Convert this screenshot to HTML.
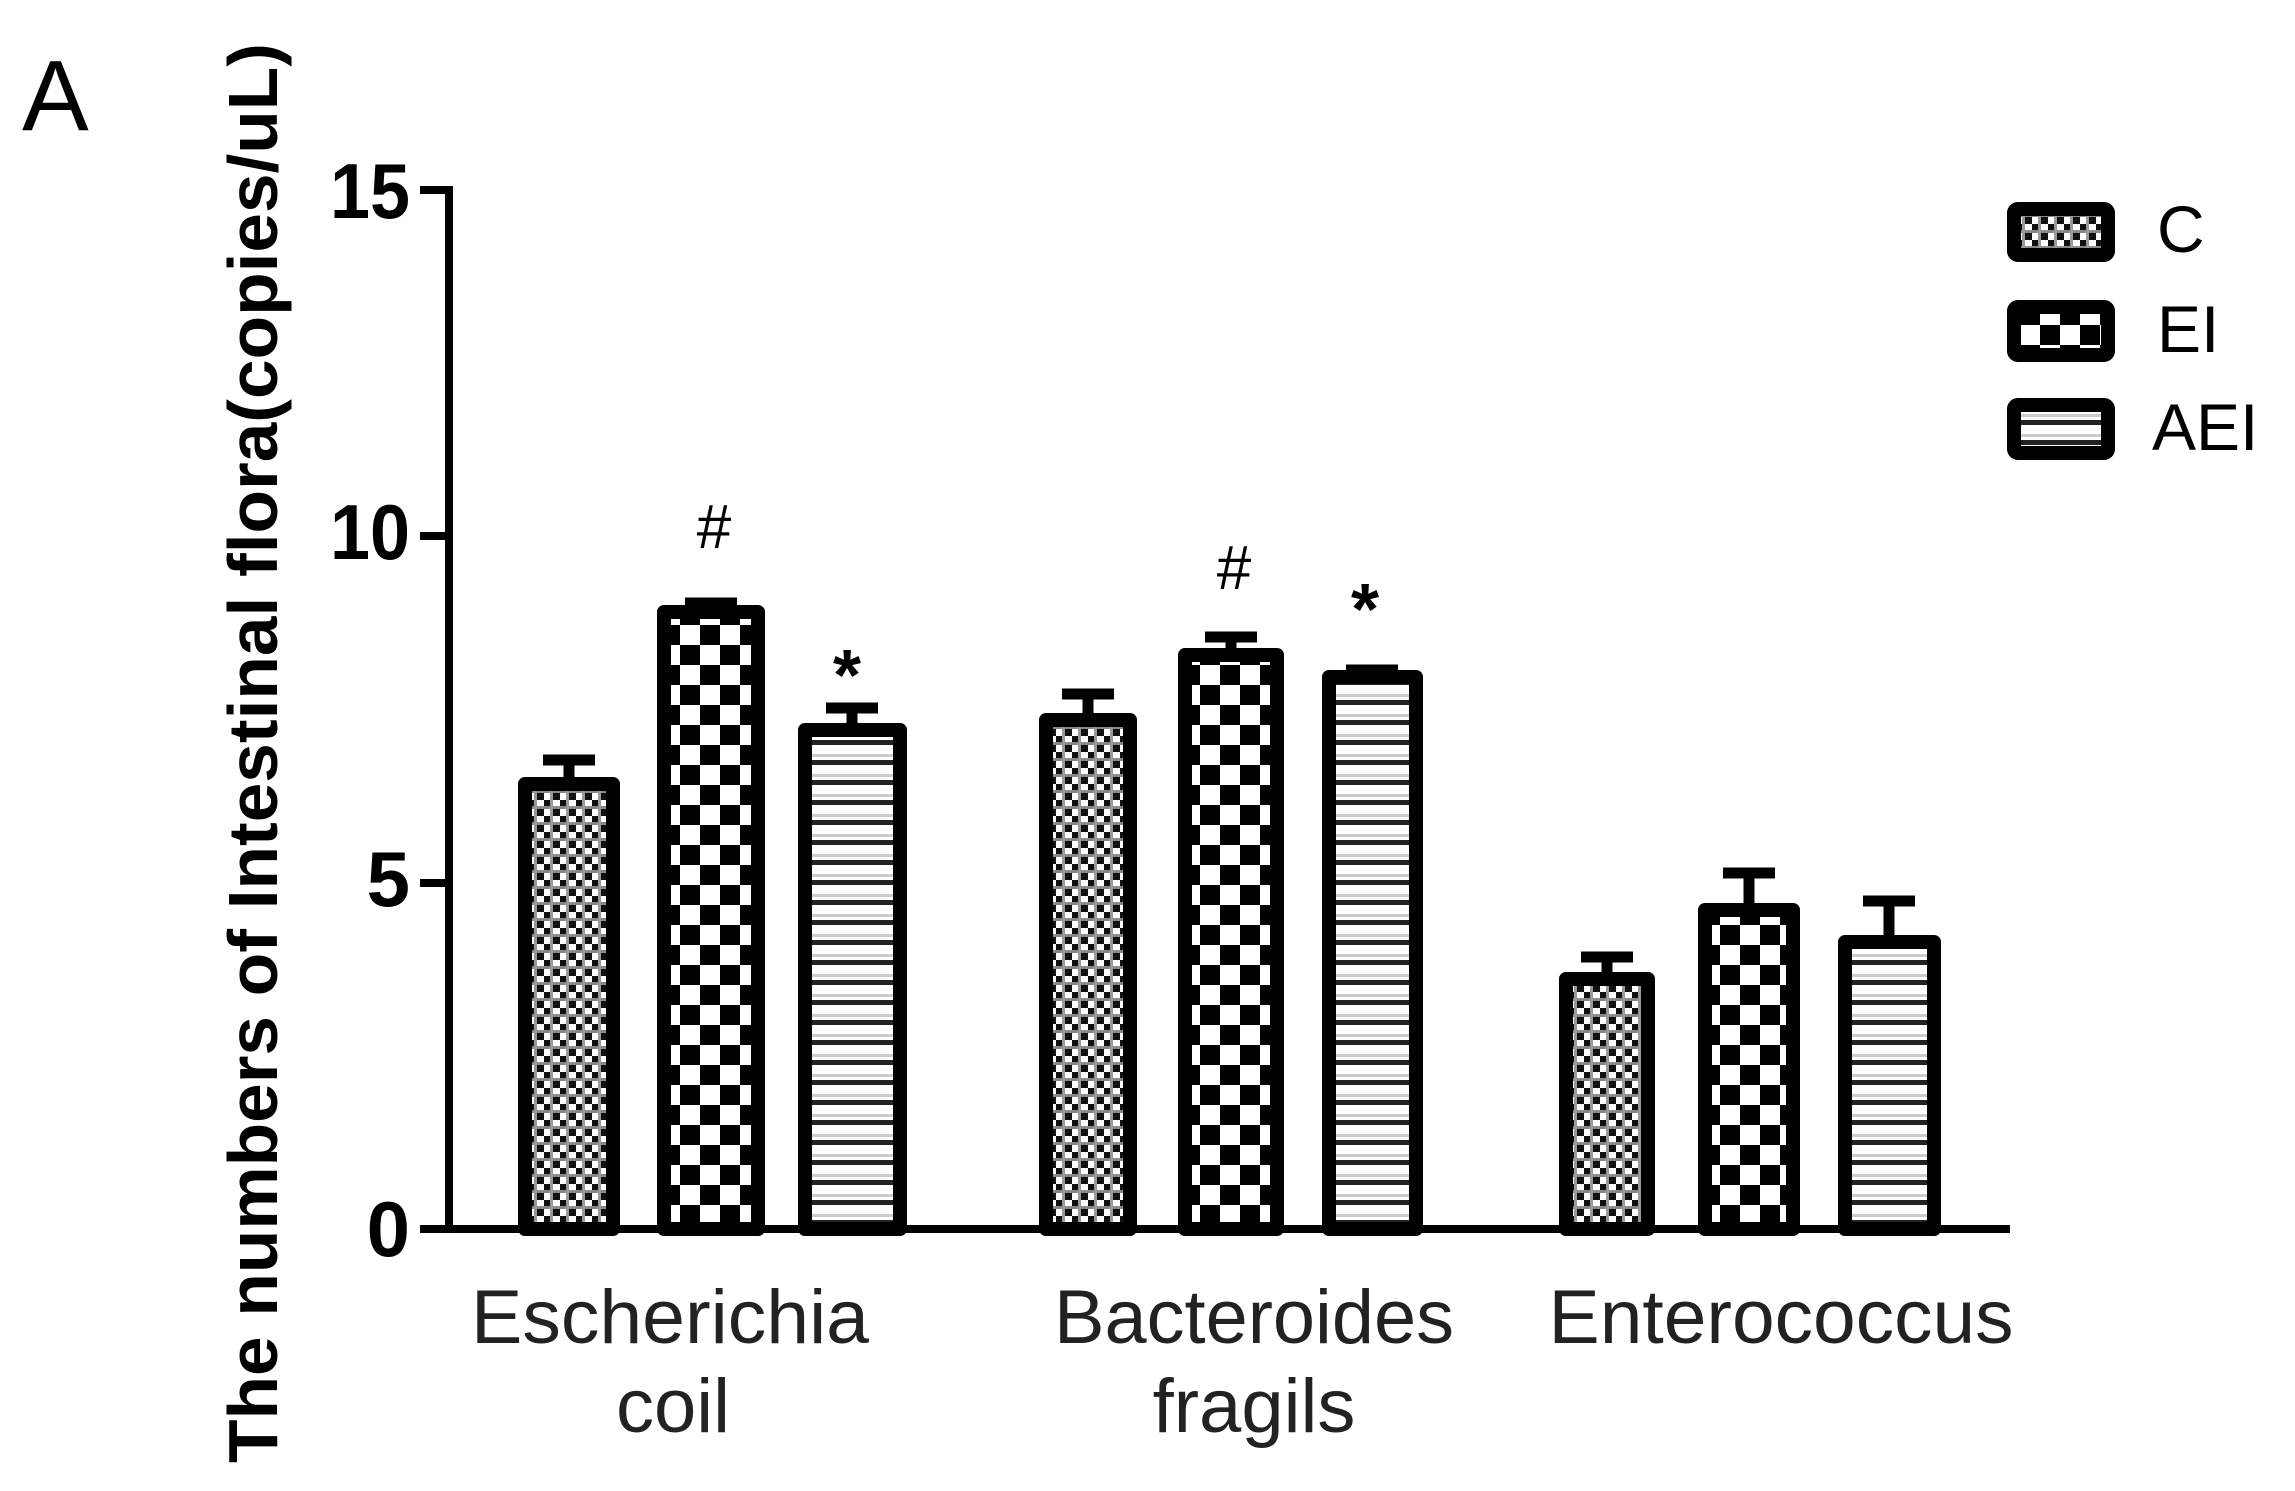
<!DOCTYPE html>
<html><head><meta charset="utf-8"><style>html,body{margin:0;padding:0;background:#fff}svg{display:block}</style></head>
<body>
<svg width="2295" height="1491" viewBox="0 0 2295 1491" xmlns="http://www.w3.org/2000/svg" font-family="Liberation Sans, sans-serif">
<defs>
<pattern id="pc" width="16" height="16" patternUnits="userSpaceOnUse">
<rect width="16" height="16" fill="#fff"/>
<rect x="0" y="0" width="8" height="8" fill="#111"/>
<rect x="8" y="8" width="8" height="8" fill="#111"/>
<rect x="0" y="6" width="16" height="3" fill="#888"/>
<rect x="6" y="0" width="3" height="16" fill="#999"/>
</pattern>
<pattern id="pe" width="40" height="40" patternUnits="userSpaceOnUse" x="0" y="5">
<rect width="40" height="40" fill="#fff"/>
<rect x="0" y="0" width="20" height="20" fill="#000"/>
<rect x="20" y="20" width="20" height="20" fill="#000"/>
</pattern>
<pattern id="pa" width="20" height="20" patternUnits="userSpaceOnUse">
<rect width="20" height="20" fill="#fff"/>
<rect x="0" y="0" width="20" height="5" fill="#222"/>
<rect x="0" y="14" width="20" height="3" fill="#ccc"/>
</pattern>
</defs>

<text x="22" y="130" font-size="100">A</text>

<text transform="translate(277,1463) rotate(-90)" font-size="70" font-weight="bold" textLength="1420" lengthAdjust="spacingAndGlyphs">The numbers of Intestinal flora(copies/uL)</text>

<g font-size="78" font-weight="bold" text-anchor="end">
<text x="410" y="218" textLength="80" lengthAdjust="spacingAndGlyphs">15</text>
<text x="410" y="559" textLength="80" lengthAdjust="spacingAndGlyphs">10</text>
<text x="410" y="906">5</text>
<text x="410" y="1256">0</text>
</g>
<g stroke="#000" stroke-width="8">
<line x1="420" y1="190" x2="449" y2="190"/>
<line x1="420" y1="536" x2="449" y2="536"/>
<line x1="420" y1="883" x2="449" y2="883"/>
<line x1="449" y1="186" x2="449" y2="1233"/>
</g>

<g stroke="#000" stroke-width="11">
<line x1="569" y1="760" x2="569" y2="780"/><line x1="543" y1="760" x2="595" y2="760"/>
<line x1="711" y1="603" x2="711" y2="610"/><line x1="685" y1="603" x2="737" y2="603"/>
<line x1="852" y1="708" x2="852" y2="728"/><line x1="826" y1="708" x2="878" y2="708"/>
<line x1="1088" y1="694" x2="1088" y2="716"/><line x1="1062" y1="694" x2="1114" y2="694"/>
<line x1="1231" y1="637" x2="1231" y2="650"/><line x1="1205" y1="637" x2="1257" y2="637"/>
<line x1="1372" y1="670" x2="1372" y2="675"/><line x1="1346" y1="670" x2="1398" y2="670"/>
<line x1="1607" y1="957" x2="1607" y2="975"/><line x1="1581" y1="957" x2="1633" y2="957"/>
<line x1="1749" y1="873" x2="1749" y2="908"/><line x1="1723" y1="873" x2="1775" y2="873"/>
<line x1="1889" y1="901" x2="1889" y2="940"/><line x1="1863" y1="901" x2="1915" y2="901"/>
</g>

<g stroke="#000" stroke-width="14" stroke-linejoin="round">
<rect x="525" y="784" width="88" height="445" fill="url(#pc)"/>
<rect x="664" y="612" width="94" height="617" fill="url(#pe)"/>
<rect x="805" y="730" width="95" height="499" fill="url(#pa)"/>
<rect x="1046" y="720" width="84" height="509" fill="url(#pc)"/>
<rect x="1185" y="655" width="92" height="574" fill="url(#pe)"/>
<rect x="1329" y="677" width="87" height="552" fill="url(#pa)"/>
<rect x="1566" y="979" width="82" height="250" fill="url(#pc)"/>
<rect x="1705" y="910" width="88" height="319" fill="url(#pe)"/>
<rect x="1845" y="942" width="89" height="287" fill="url(#pa)"/>
</g>

<line x1="420" y1="1229" x2="2010" y2="1229" stroke="#000" stroke-width="8"/>

<g font-size="62" text-anchor="middle">
<text x="714" y="548">#</text>
<text x="1234" y="589">#</text>
<text x="847" y="700" font-size="72" font-weight="bold">*</text>
<text x="1365" y="634" font-size="72" font-weight="bold">*</text>
</g>

<g font-size="76" fill="#222" text-anchor="middle">
<text x="670" y="1343" textLength="398" lengthAdjust="spacingAndGlyphs">Escherichia</text>
<text x="673" y="1432">coil</text>
<text x="1254" y="1343" textLength="400" lengthAdjust="spacingAndGlyphs">Bacteroides</text>
<text x="1254" y="1432">fragils</text>
<text x="1781" y="1343" textLength="465" lengthAdjust="spacingAndGlyphs">Enterococcus</text>
</g>

<g stroke="#000" stroke-width="14">
<rect x="2014" y="209" width="94" height="46" rx="4" fill="url(#pc)"/>
<rect x="2014" y="307" width="94" height="48" rx="4" fill="url(#pe)"/>
<rect x="2014" y="405" width="94" height="48" rx="4" fill="url(#pa)"/>
</g>
<g font-size="66">
<text x="2157" y="252">C</text>
<text x="2157" y="352">EI</text>
<text x="2152" y="450">AEI</text>
</g>
</svg>
</body></html>
